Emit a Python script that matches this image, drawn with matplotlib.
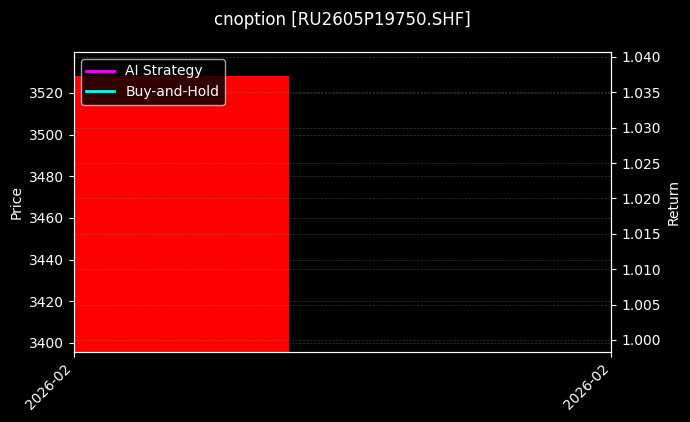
import matplotlib
matplotlib.use("Agg")
import matplotlib.pyplot as plt
import matplotlib.dates as mdates
import datetime as dt

plt.style.use("dark_background")

# data
dates = [dt.datetime(2026, 2, 10)]
open_px = [3528.2]
close_px = [3390.0]
ai_strategy = [1.0]
buy_hold = [1.0]
title = "cnoption [RU2605P19750.SHF]"

fig = plt.figure(figsize=(6.9, 4.22), dpi=100)
ax = fig.add_axes([0.107, 0.166, 0.779, 0.711])
ax2 = ax.twinx()

x = mdates.date2num(dates)
bottoms = [min(o, c) for o, c in zip(open_px, close_px)]
heights = [abs(o - c) for o, c in zip(open_px, close_px)]
ax.bar(x, heights, bottom=bottoms, width=0.8, color="red", zorder=2)

ax2.plot(x, ai_strategy, color="magenta", lw=2, label="AI Strategy")
ax2.plot(x, buy_hold, color="cyan", lw=2, label="Buy-and-Hold")

ax.set_xlim(x[0], x[0] + 1)
ax.set_xticks([x[0], x[0] + 1])
ax.xaxis.set_major_formatter(mdates.DateFormatter("%Y-%m"))
for lab in ax.get_xticklabels():
    lab.set_rotation(45)
    lab.set_ha("right")

ax.set_ylim(3395.7, 3539.7)
ax.set_yticks([3400, 3420, 3440, 3460, 3480, 3500, 3520])
ax2.set_ylim(0.9983, 1.0407)
ax2.set_yticks([1.000, 1.005, 1.010, 1.015, 1.020, 1.025, 1.030, 1.035, 1.040])
ax2.yaxis.set_major_formatter(matplotlib.ticker.FormatStrFormatter("%.3f"))

ax.set_ylabel("Price")
ax2.set_ylabel("Return")

ax.grid(True, axis="y", linestyle="--", linewidth=0.5, color="gray", alpha=0.4)
ax2.grid(True, axis="y", linestyle="--", linewidth=0.5, color="gray", alpha=0.4)

for a in (ax, ax2):
    for s in a.spines.values():
        s.set_color("white")

ax2.legend(loc="upper left", facecolor="black", edgecolor="#cccccc", framealpha=0.8)
fig.suptitle(title, fontsize=12, x=0.496, y=0.975)

fig.savefig("out.png", dpi=100, facecolor="black")
